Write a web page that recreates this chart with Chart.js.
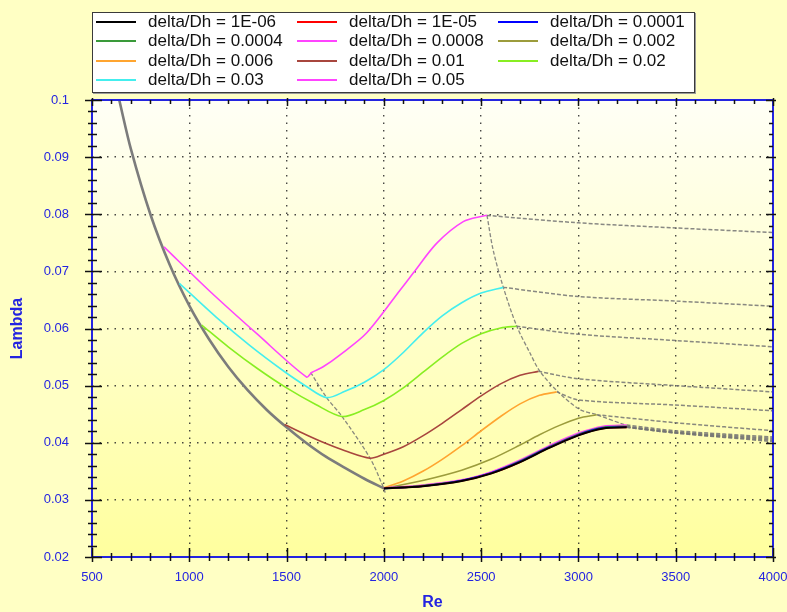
<!DOCTYPE html>
<html><head><meta charset="utf-8">
<script src="https://cdn.jsdelivr.net/npm/chart.js@4"></script>
<style>
html,body{margin:0;padding:0;background:#FFFFC4;}
#wrap{position:relative;width:787px;height:612px;overflow:hidden;}
#c{position:absolute;left:0;top:0;}
#legend{position:absolute;left:92px;top:12px;width:603px;height:81px;background:#fff;border:1px solid #3a3a3a;box-shadow:1px 1px 0 #9a9a9a;box-sizing:border-box;font-family:'Liberation Sans',Arial,sans-serif;font-size:17px;color:#111;}
.li{position:absolute;height:19px;line-height:19px;white-space:nowrap;}
.li .sw{position:absolute;left:0;top:9px;width:40px;height:2px;}
.li .tx{position:absolute;left:52px;top:0;}
</style></head>
<body><div id="wrap"><canvas id="c" width="787" height="612"></canvas><div id="legend"></div></div>
<script>
// ---------- data ----------
const seriesLabels = ['delta/Dh = 1E-06','delta/Dh = 1E-05','delta/Dh = 0.0001','delta/Dh = 0.0004','delta/Dh = 0.0008','delta/Dh = 0.002','delta/Dh = 0.006','delta/Dh = 0.01','delta/Dh = 0.02','delta/Dh = 0.03','delta/Dh = 0.05'];
const xTickValues = [500,1000,1500,2000,2500,3000,3500,4000];
const yTickValues = [0.02,0.03,0.04,0.05,0.06,0.07,0.08,0.09,0.1];
const xAxisTitle = 'Re';
const yAxisTitle = 'Lambda';

// low-roughness group
const reLow   = [2000,2200,2400,2550,2700,2850,3000,3128,3248];
const lam1e6  = [0.0320,0.0324,0.0333,0.0346,0.0366,0.0391,0.0413,0.0425,0.0427];
const lam1e5  = [0.0320,0.0324,0.0333,0.0346,0.0366,0.0391,0.0413,0.0425,0.0427];
const lam1e4  = [0.0320,0.0324,0.0334,0.0347,0.0367,0.0392,0.0414,0.0426,0.0428];
const lam4e4  = [0.0320,0.0325,0.0334,0.0347,0.0368,0.0393,0.0415,0.0427,0.0429];
const lam8e4  = [0.0321,0.0326,0.0335,0.0349,0.0370,0.0395,0.0417,0.0429,0.0431];
// 0.002
const re002   = [2000,2200,2400,2550,2700,2800,2900,3000,3094];
const lam002  = [0.0320,0.0334,0.0352,0.0371,0.0396,0.0414,0.0430,0.0443,0.0449];
// 0.006
const re006   = [2000,2100,2200,2300,2400,2500,2600,2700,2800,2888];
const lam006  = [0.0321,0.0333,0.0350,0.0371,0.0395,0.0421,0.0446,0.0468,0.0483,0.0489];
// 0.01
const re01    = [1490,1600,1700,1800,1929,2000,2100,2200,2300,2400,2500,2600,2700,2794];
const lam01   = [0.0432,0.0414,0.0399,0.0386,0.0373,0.0380,0.0393,0.0412,0.0434,0.0458,0.0482,0.0503,0.0518,0.0525];
// 0.02
const re02    = [1064,1200,1350,1500,1650,1785,1900,2000,2100,2200,2300,2400,2500,2600,2682];
const lam02   = [0.0606,0.0568,0.0530,0.0496,0.0467,0.0446,0.0458,0.0474,0.0496,0.0523,0.0550,0.0574,0.0591,0.0601,0.0604];
// 0.03
const re03    = [949,1141,1312,1483,1600,1706,1800,1900,2000,2100,2200,2300,2400,2500,2614];
const lam03   = [0.0679,0.0619,0.0570,0.0526,0.0499,0.0479,0.0490,0.0506,0.0528,0.0558,0.0592,0.0622,0.0645,0.0662,0.0672];
// 0.05
const re05    = [870,1100,1350,1603,1629,1688,1775,1911,2083,2151,2271,2408,2511,2530];
const lam05   = [0.0743,0.0667,0.0590,0.0515,0.0523,0.0533,0.0554,0.0592,0.0667,0.0697,0.0749,0.0787,0.0797,0.0798];

// laminar line (grey)
const reLam   = [640,700,800,900,1000,1100,1200,1300,1400,1500,1600,1700,1800,1900,2000];
const lamLam  = [0.1,0.0914,0.08,0.0711,0.064,0.0582,0.0533,0.0492,0.0457,0.0427,0.04,0.0376,0.0356,0.0337,0.032];

// grey dashed continuations to Re = 4000
const reExt05 = [2530,3000,3500,4000];  const lamExt05 = [0.0798,0.0785,0.0776,0.0768];
const reExt03 = [2614,3000,3500,4000];  const lamExt03 = [0.0672,0.0656,0.0648,0.0639];
const reExt02 = [2682,3000,3500,4000];  const lamExt02 = [0.0604,0.0590,0.0579,0.0568];
const reExt01 = [2794,3000,3500,4000];  const lamExt01 = [0.0525,0.0512,0.0500,0.0489];
const reExt006 = [2888,3000,3500,4000]; const lamExt006 = [0.0489,0.0475,0.0466,0.0456];
const reExt002 = [3094,3500,4000];      const lamExt002 = [0.0449,0.0435,0.0421];
const reExtLow = [3248,3500,4000];
const lamExt1e6 = [0.0427,0.0417,0.0402];
const lamExt1e5 = [0.0427,0.0417,0.0404];
const lamExt1e4 = [0.0428,0.0418,0.0406];
const lamExt4e4 = [0.0429,0.0419,0.0408];
const lamExt8e4 = [0.0431,0.0421,0.0410];

// grey dashed loci of the minima and maxima
const reMinLocus  = [1624,1706,1785,1929,2000,2008];
const lamMinLocus = [0.0523,0.0479,0.0446,0.0373,0.0320,0.0311];
const reMaxLocus  = [2530,2562,2614,2683,2751,2802,2896,3008,3094,3248];
const lamMaxLocus = [0.0798,0.0737,0.0672,0.0604,0.0557,0.0525,0.0489,0.0458,0.0449,0.0430];

// ---------- styles ----------
const seriesColors = ['#000000','#ff0000','#0000ff','#3a9a3a','#ff44ff','#9c9c3c','#ffa530','#a8463e','#88ee22','#44eeee','#ff44ff'];
const FONT = "'Liberation Sans', Arial, sans-serif";
const BLUE = '#2424e0';

function pts(xs, ys){ return xs.map((x,i)=>({x:x, y:ys[i]})); }
const datasets = [];
function add(xs, ys, style){
  datasets.push(Object.assign({data:pts(xs,ys), showLine:true, pointRadius:0, pointHoverRadius:0, fill:false, tension:0.3}, style));
}
const colored = [[reLow,lam1e6],[reLow,lam1e5],[reLow,lam1e4],[reLow,lam4e4],[reLow,lam8e4],[re002,lam002],[re006,lam006],[re01,lam01],[re02,lam02],[re03,lam03],[re05,lam05]];
colored.forEach((s,i)=>add(s[0], s[1], {label:seriesLabels[i], borderColor:seriesColors[i], borderWidth: i===0 ? 2 : 1.6}));

const dashStyle = {borderColor:'rgba(115,115,115,0.85)', borderWidth:1.5, borderDash:[4,2]};
const extList = [[reExt05,lamExt05],[reExt03,lamExt03],[reExt02,lamExt02],[reExt01,lamExt01],[reExt006,lamExt006],[reExt002,lamExt002],[reExtLow,lamExt1e6],[reExtLow,lamExt1e5],[reExtLow,lamExt1e4],[reExtLow,lamExt4e4],[reExtLow,lamExt8e4]];
extList.forEach(s=>add(s[0], s[1], Object.assign({}, dashStyle)));
add(reMinLocus, lamMinLocus, {borderColor:'rgba(115,115,115,0.85)', borderWidth:1.3, borderDash:[4,2]});
add(reMaxLocus, lamMaxLocus, {borderColor:'rgba(115,115,115,0.85)', borderWidth:1.3, borderDash:[4,2]});
add(reLam, lamLam, {borderColor:'#7c7c7c', borderWidth:2.6});

// ---------- legend (HTML text) ----------
const legendEl = document.getElementById('legend');
seriesLabels.forEach((lab,i)=>{
  const col = i % 3, row = Math.floor(i / 3);
  const d = document.createElement('div');
  d.className = 'li';
  d.style.left = (3 + col*201) + 'px';
  d.style.top = (-1 + row*19.3) + 'px';
  d.innerHTML = '<span class="sw" style="background:'+seriesColors[i]+'"></span><span class="tx"></span>';
  d.querySelector('.tx').textContent = lab;
  legendEl.appendChild(d);
});

// ---------- plugins ----------
const bgPlugin = {
  id:'bg',
  beforeDraw(chart){
    const {ctx, chartArea:a} = chart;
    ctx.save();
    ctx.fillStyle = '#FFFFC4';
    ctx.fillRect(0,0,chart.width,chart.height);
    const g = ctx.createLinearGradient(0,a.top,0,a.bottom);
    g.addColorStop(0,'#FFFFF6');
    g.addColorStop(1,'#FFFF9E');
    ctx.fillStyle = g;
    ctx.fillRect(a.left,a.top,a.right-a.left,a.bottom-a.top);
    ctx.restore();
  }
};
const axesPlugin = {
  id:'axes',
  afterDraw(chart){
    const {ctx, chartArea:a, scales:{x, y}} = chart;
    ctx.save();
    ctx.strokeStyle = BLUE; ctx.lineWidth = 2;
    ctx.strokeRect(a.left, a.top, a.right-a.left, a.bottom-a.top);
    ctx.strokeStyle = '#111'; ctx.lineWidth = 1.5;
    ctx.beginPath();
    const xMinor = 100;
    for (let v = x.min; v <= x.max + 1e-9; v += xMinor){
      const p = Math.round(x.getPixelForValue(v)) + 0.5;
      const major = Math.abs(v % 500) < 1e-6;
      ctx.moveTo(p, a.bottom - (major?9:4)); ctx.lineTo(p, a.bottom + (major?5:4));
      ctx.moveTo(p, a.top - (major?2:0)); ctx.lineTo(p, a.top + (major?6:4));
    }
    const steps = Math.round((y.max - y.min)/0.002);
    for (let k = 0; k <= steps; k++){
      const v = y.min + k*0.002;
      const p = Math.round(y.getPixelForValue(v)) + 0.5;
      const major = k % 5 === 0;
      ctx.moveTo(a.left - (major?7:4), p); ctx.lineTo(a.left + (major?10:5), p);
      ctx.moveTo(a.right - (major?7:4), p); ctx.lineTo(a.right + (major?3:0), p);
    }
    ctx.stroke();
    ctx.restore();
  }
};

new Chart(document.getElementById('c'), {
  type:'scatter',
  data:{datasets},
  options:{
    responsive:false, animation:false, devicePixelRatio:1, events:[],
    layout:{padding:{left:0, top:100, right:14, bottom:0}},
    plugins:{legend:{display:false}, tooltip:{enabled:false}},
    scales:{
      x:{
        type:'linear', min:500, max:4000,
        afterBuildTicks: s => { s.ticks = xTickValues.map(v=>({value:v})); },
        ticks:{color:BLUE, font:{family:FONT, size:13}, padding:13, autoSkip:false, maxRotation:0, callback:v=>String(v)},
        grid:{color:'rgba(40,40,40,0.85)', lineWidth:1.4, drawTicks:false},
        border:{display:false, dash:[1.5,6]},
        title:{display:true, text:xAxisTitle, color:BLUE, font:{family:FONT, size:16, weight:'bold'}, padding:{top:0, bottom:0}},
        afterFit: s => { s.height = 55; s.paddingLeft = 0; s.paddingRight = 0; }
      },
      y:{
        type:'linear', min:0.02, max:0.1,
        afterBuildTicks: s => { s.ticks = yTickValues.map(v=>({value:v})); },
        ticks:{color:BLUE, font:{family:FONT, size:13}, padding:23, autoSkip:false, callback:v=>String(parseFloat(Number(v).toFixed(3)))},
        grid:{color:'rgba(40,40,40,0.85)', lineWidth:1.4, drawTicks:false},
        border:{display:false, dash:[1.5,6]},
        title:{display:true, text:yAxisTitle, color:BLUE, font:{family:FONT, size:16, weight:'bold'}, padding:{top:8, bottom:0}},
        afterFit: s => { s.width = 92; s.paddingTop = 0; s.paddingBottom = 0; }
      }
    }
  },
  plugins:[bgPlugin, axesPlugin]
});
</script>
</body></html>
